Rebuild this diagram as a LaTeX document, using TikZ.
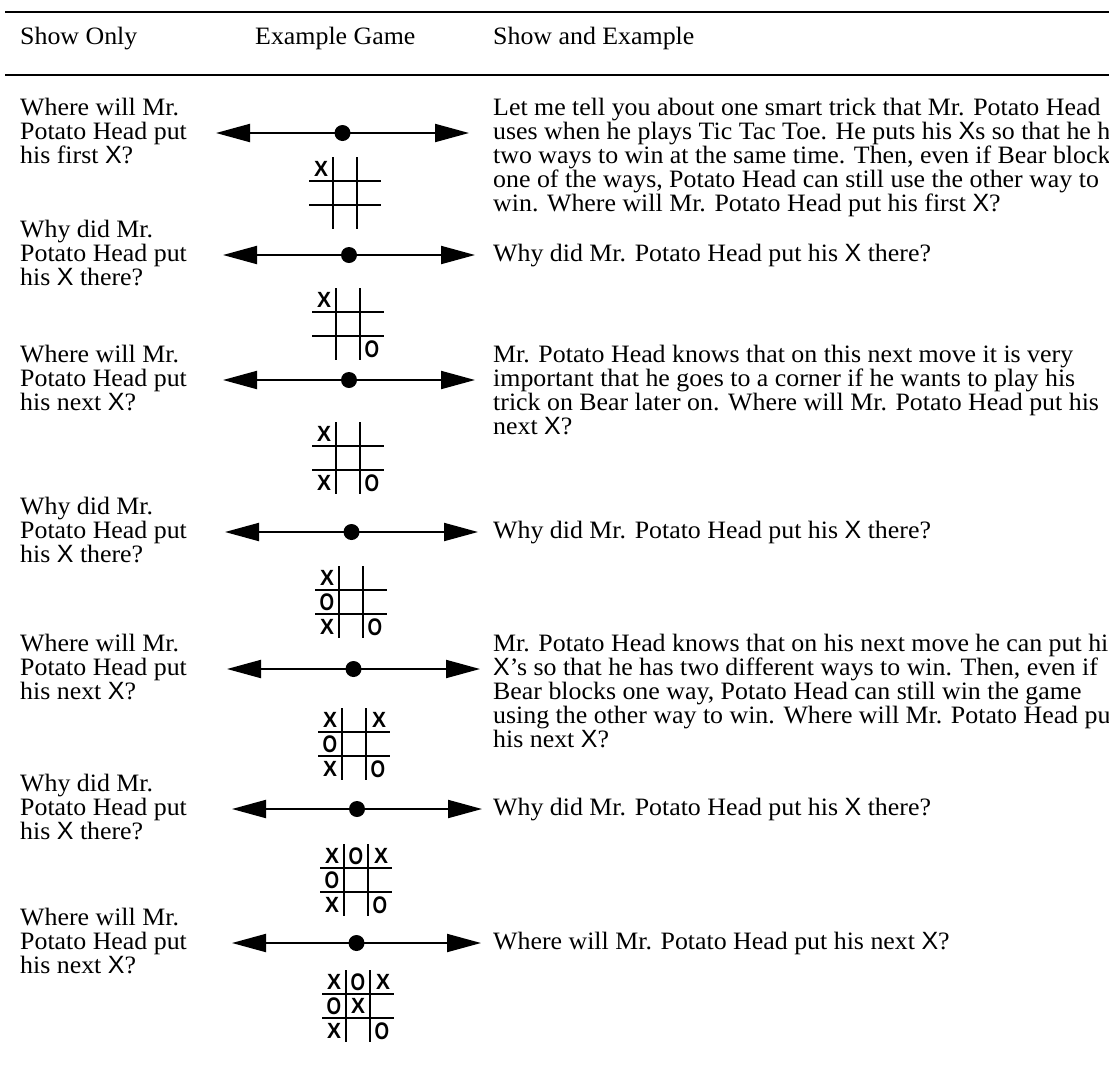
\documentclass[tikz,border=0pt]{standalone}
\usepackage{fontspec}
\setmainfont{Liberation Serif}[FakeStretch=1.035]
\newfontfamily\sxfont{Liberation Sans}
\newfontfamily\xmarkfont{Liberation Sans Bold}[FakeStretch=0.95]
\newfontfamily\omarkfont{Liberation Sans Bold}[FakeStretch=0.78]
\usetikzlibrary{arrows.meta}
\newcommand{\sx}{{\sxfont X}}

\tikzset{
  txt/.style={anchor=base west, align=left, inner sep=0pt, font=\fontsize{25}{24}\selectfont},
  hrule/.style={line width=2.5pt},
  dblarrow/.style={line width=2pt, {Triangle[length=34pt,width=18pt]}-{Triangle[length=34pt,width=18pt]}},
  hub/.style={circle, fill=black, inner sep=0pt, minimum size=16pt},
  board/.style={line width=2.5pt},
  xmark/.style={inner sep=0pt, font=\xmarkfont\fontsize{22}{22}\selectfont},
  omark/.style={inner sep=0pt, font=\omarkfont\fontsize{24}{24}\selectfont},
}

\begin{document}
\begin{tikzpicture}[x=1pt,y=-1pt]
\useasboundingbox (0,0) rectangle (1109,1066);
\clip (0,0) rectangle (1109,1066);

% header
\draw[hrule] (5,12) -- (1109,12);
\node[txt] (h1) at (20,44) {Show Only};
\node[txt] (h2) at (255,44) {Example Game};
\node[txt] (h3) at (493,44) {Show and Example};
\draw[hrule] (5,75) -- (1109,75);

% show only (anchored on the last line)
\node[txt] (q1) at (20,163) {Where will Mr.\\Potato Head put\\his first \sx?};
\node[txt] (q2) at (20,285) {Why did Mr.\\Potato Head put\\his \sx{} there?};
\node[txt] (q3) at (20,410) {Where will Mr.\\Potato Head put\\his next \sx?};
\node[txt] (q4) at (20,562) {Why did Mr.\\Potato Head put\\his \sx{} there?};
\node[txt] (q5) at (20,699) {Where will Mr.\\Potato Head put\\his next \sx?};
\node[txt] (q6) at (20,839) {Why did Mr.\\Potato Head put\\his \sx{} there?};
\node[txt] (q7) at (20,973) {Where will Mr.\\Potato Head put\\his next \sx?};

% show and example
\node[txt] (s1) at (493,211) {Let me tell you about one smart trick that Mr. Potato Head\\uses when he plays Tic Tac Toe. He puts his \sx s so that he has\\two ways to win at the same time. Then, even if Bear blocks\\one of the ways, Potato Head can still use the other way to\\win. Where will Mr. Potato Head put his first \sx?};
\node[txt] (s2) at (493,261) {Why did Mr. Potato Head put his \sx{} there?};
\node[txt] (s3) at (493,434) {Mr. Potato Head knows that on this next move it is very\\important that he goes to a corner if he wants to play his\\trick on Bear later on. Where will Mr. Potato Head put his\\next \sx?};
\node[txt] (s4) at (493,538) {Why did Mr. Potato Head put his \sx{} there?};
\node[txt] (s5) at (493,747) {Mr. Potato Head knows that on his next move he can put his\\\sx's so that he has two different ways to win. Then, even if\\Bear blocks one way, Potato Head can still win the game\\using the other way to win. Where will Mr. Potato Head put\\his next \sx?};
\node[txt] (s6) at (493,815) {Why did Mr. Potato Head put his \sx{} there?};
\node[txt] (s7) at (493,949) {Where will Mr. Potato Head put his next \sx?};

% arrows
\coordinate (a1w) at (216,133); \coordinate (a1e) at (469,133);
\coordinate (a2w) at (223,255); \coordinate (a2e) at (475,255);
\coordinate (a3w) at (223,380); \coordinate (a3e) at (475,380);
\coordinate (a4w) at (225,532); \coordinate (a4e) at (478,532);
\coordinate (a5w) at (227,669); \coordinate (a5e) at (480,669);
\coordinate (a6w) at (232,809); \coordinate (a6e) at (482,809);
\coordinate (a7w) at (232,943); \coordinate (a7e) at (481,943);
\draw[dblarrow] (a1w) -- (a1e) node[midway,hub] (c1) {};
\draw[dblarrow] (a2w) -- (a2e) node[midway,hub] (c2) {};
\draw[dblarrow] (a3w) -- (a3e) node[midway,hub] (c3) {};
\draw[dblarrow] (a4w) -- (a4e) node[midway,hub] (c4) {};
\draw[dblarrow] (a5w) -- (a5e) node[midway,hub] (c5) {};
\draw[dblarrow] (a6w) -- (a6e) node[midway,hub] (c6) {};
\draw[dblarrow] (a7w) -- (a7e) node[midway,hub] (c7) {};

% boards
\begin{scope}[shift={(345,193)}]
\draw[board] (-12,-36) -- (-12,36) (12,-36) -- (12,36) (-36,-12) -- (36,-12) (-36,12) -- (36,12);
\node[xmark] (g1a) at (-24,-24) {X};
\end{scope}

\begin{scope}[shift={(348,324)}]
\draw[board] (-12,-36) -- (-12,36) (12,-36) -- (12,36) (-36,-12) -- (36,-12) (-36,12) -- (36,12);
\node[xmark] (g2a) at (-24,-24) {X};
\node[omark] (g2b) at (24,25) {O};
\end{scope}

\begin{scope}[shift={(348,458)}]
\draw[board] (-12,-36) -- (-12,36) (12,-36) -- (12,36) (-36,-12) -- (36,-12) (-36,12) -- (36,12);
\node[xmark] (g3a) at (-24,-24) {X};
\node[xmark] (g3b) at (-24,25) {X};
\node[omark] (g3c) at (24,25) {O};
\end{scope}

\begin{scope}[shift={(351,602)}]
\draw[board] (-12,-36) -- (-12,36) (12,-36) -- (12,36) (-36,-12) -- (36,-12) (-36,12) -- (36,12);
\node[xmark] (g4a) at (-24,-24) {X};
\node[omark] (g4b) at (-24,0) {O};
\node[xmark] (g4c) at (-24,25) {X};
\node[omark] (g4d) at (24,25) {O};
\end{scope}

\begin{scope}[shift={(354,744)}]
\draw[board] (-12,-36) -- (-12,36) (12,-36) -- (12,36) (-36,-12) -- (36,-12) (-36,12) -- (36,12);
\node[xmark] (g5a) at (-24,-24) {X};
\node[xmark] (g5b) at (25,-24) {X};
\node[omark] (g5c) at (-24,0) {O};
\node[xmark] (g5d) at (-24,25) {X};
\node[omark] (g5e) at (24,25) {O};
\end{scope}

\begin{scope}[shift={(356,880)}]
\draw[board] (-12,-36) -- (-12,36) (12,-36) -- (12,36) (-36,-12) -- (36,-12) (-36,12) -- (36,12);
\node[xmark] (g6a) at (-24,-24) {X};
\node[omark] (g6b) at (0,-24) {O};
\node[xmark] (g6c) at (25,-24) {X};
\node[omark] (g6d) at (-24,0) {O};
\node[xmark] (g6e) at (-24,25) {X};
\node[omark] (g6f) at (24,25) {O};
\end{scope}

\begin{scope}[shift={(358,1006)}]
\draw[board] (-12,-36) -- (-12,36) (12,-36) -- (12,36) (-36,-12) -- (36,-12) (-36,12) -- (36,12);
\node[xmark] (g7a) at (-24,-24) {X};
\node[omark] (g7b) at (0,-24) {O};
\node[xmark] (g7c) at (25,-24) {X};
\node[omark] (g7d) at (-24,0) {O};
\node[xmark] (g7e) at (0,0) {X};
\node[xmark] (g7f) at (-24,25) {X};
\node[omark] (g7g) at (24,25) {O};
\end{scope}
\end{tikzpicture}
\end{document}
